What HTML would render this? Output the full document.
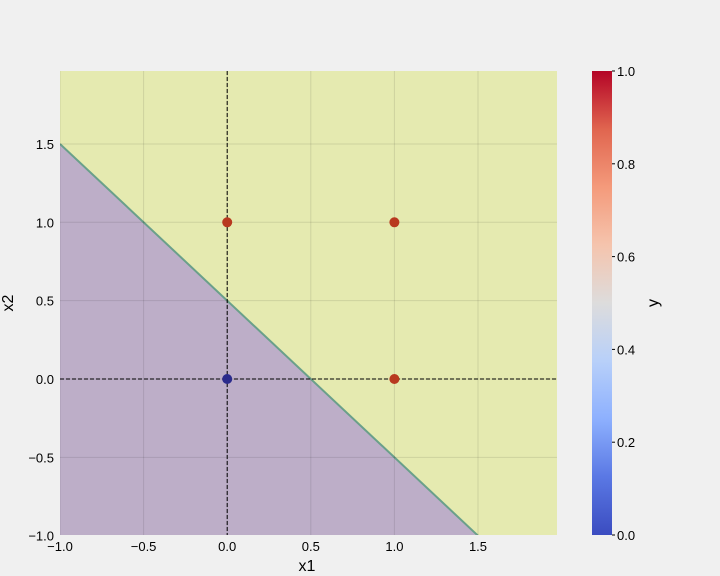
<!DOCTYPE html>
<html><head><meta charset="utf-8"><style>
body{margin:0;background:#f0f0f0;}
svg{display:block;font-family:"Liberation Sans","DejaVu Sans",sans-serif;}
</style></head><body>
<svg width="720" height="576">
<defs>
<linearGradient id="cw" x1="0" y1="1" x2="0" y2="0">
<stop offset="0" stop-color="#3b4cc0"/><stop offset="0.125" stop-color="#5a78e4"/>
<stop offset="0.25" stop-color="#8db0fe"/><stop offset="0.375" stop-color="#b8d0f9"/>
<stop offset="0.5" stop-color="#dddcdc"/><stop offset="0.625" stop-color="#f5c4ad"/>
<stop offset="0.75" stop-color="#f49a7b"/><stop offset="0.875" stop-color="#e0654f"/>
<stop offset="1" stop-color="#b40426"/></linearGradient>
<clipPath id="pc"><rect x="60" y="71" width="497" height="464"/></clipPath>
</defs>
<g id="plot"></g>
<rect x="592" y="71" width="20" height="464" fill="url(#cw)"/>
<g id="cb"></g>
<text x="307" y="571" font-size="16" text-anchor="middle">x1</text>
<text x="13" y="303" font-size="16" text-anchor="middle" transform="rotate(-90 13 303)">x2</text>
<text x="658" y="303" font-size="16" text-anchor="middle" transform="rotate(-90 658 303)">y</text>
</svg>
<script>
const xTicks=[-1,-0.5,0,0.5,1,1.5];
const yTicks=[-1,-0.5,0,0.5,1,1.5];
const cbTicks=[0,0.2,0.4,0.6,0.8,1];
const ptX=[0,0,1,1];
const ptY=[0,1,0,1];
const ptLabel=[0,1,1,1];
const boundaryX=[-1,1.5];
const boundaryY=[1.5,-1];
const NS="http://www.w3.org/2000/svg";
const px=x=>60+(x+1)*167.2, py=y=>379-y*156.7;
const cy=v=>535-v*464;
function mk(t,a,p){const e=document.createElementNS(NS,t);for(const k in a)e.setAttribute(k,a[k]);p.appendChild(e);return e;}
const g=document.getElementById('plot');
const c=mk('g',{'clip-path':'url(#pc)'},g);
mk('rect',{x:60,y:71,width:497,height:464,fill:'#e5eab0'},c);
const poly=mk('polygon',{points:`${px(boundaryX[0])},${py(boundaryY[0])} ${px(boundaryX[1])},${py(boundaryY[1])} ${px(-1)},${py(-1)}`,fill:'#bdaec8'},c);


const bl=mk('line',{x1:px(boundaryX[0]),y1:py(boundaryY[0]),x2:px(boundaryX[1]),y2:py(boundaryY[1]),stroke:'#6aa08a','stroke-width':2},c);


xTicks.forEach(v=>{
 mk('line',{x1:px(v),y1:71,x2:px(v),y2:535,stroke:'rgba(0,0,0,0.1)','stroke-width':1},c);
 const t=mk('text',{x:px(v),y:551,'font-size':13,'text-anchor':'middle'},document.querySelector('svg'));
 t.textContent=v===-1?'−1.0':v<0?'−'+Math.abs(v).toFixed(1):v.toFixed(1);
 
 
});
yTicks.forEach(v=>{
 mk('line',{x1:60,y1:py(v),x2:557,y2:py(v),stroke:'rgba(0,0,0,0.1)','stroke-width':1},c);
 const t=mk('text',{x:54,y:py(v)+5,'font-size':13,'text-anchor':'end'},document.querySelector('svg'));
 t.textContent=v<0?'−'+Math.abs(v).toFixed(1):v.toFixed(1);
 
 
});
mk('line',{x1:px(0),y1:71,x2:px(0),y2:535,stroke:'#000','stroke-width':1,'stroke-dasharray':'4,2'},c);
mk('line',{x1:60,y1:py(0),x2:557,y2:py(0),stroke:'#000','stroke-width':1,'stroke-dasharray':'4,2'},c);
ptX.forEach((x,i)=>{
 const p=mk('circle',{cx:px(x),cy:py(ptY[i]),r:5,fill:ptLabel[i]?'#b8391f':'#2b2b8c'},c);
 
 
});
const cb=document.getElementById('cb');
cbTicks.forEach(v=>{
 mk('line',{x1:612,y1:cy(v),x2:615,y2:cy(v),stroke:'#000'},cb);
 const t=mk('text',{x:617,y:cy(v)+5,'font-size':13},cb);
 t.textContent=v.toFixed(1);
 
 
});
</script>
</body></html>
